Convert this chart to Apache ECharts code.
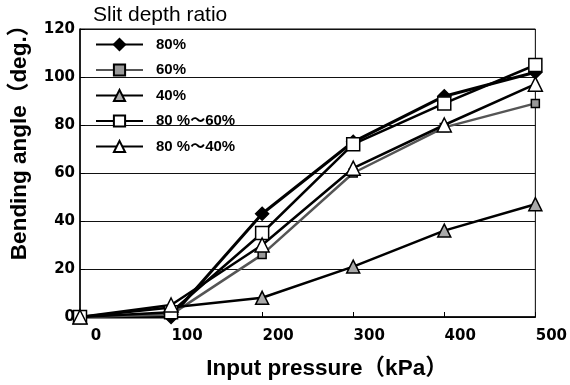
<!DOCTYPE html>
<html>
<head>
<meta charset="utf-8">
<script src="https://cdn.jsdelivr.net/npm/echarts@6/dist/echarts.min.js"></script>
<style>
  html, body { margin: 0; padding: 0; background: #fff; }
  #main { width: 570px; height: 385px; }
</style>
</head>
<body>
<div id="main"></div>
<script>
// input pressure (kPa)
const pressures = [0, 100, 200, 300, 400, 500];
// bending angle (deg.) per slit depth ratio
const d80 = [0, 0, 43, 73, 92, 102];
const d60 = [0, 1, 26, 60, 79, 89];
const d40 = [0, 4, 8, 21, 36, 47];
const d80to60 = [0, 2, 35, 72, 89, 105];
const d80to40 = [0, 5, 30, 62, 80, 97];
const xTicks = [0, 100, 200, 300, 400, 500];
const yTicks = [0, 20, 40, 60, 80, 100, 120];

const FONT = "'Liberation Sans', 'Noto Sans CJK JP', sans-serif";

const pairs = (vals) => pressures.map((p, i) => [p, vals[i]]);

const mkSeries = (name, vals, symbol, size, fill, lineColor, lineWidth) => ({
  name: name,
  type: "line",
  data: pairs(vals),
  symbol: symbol,
  symbolSize: size,
  showAllSymbol: true,
  clip: false,
  lineStyle: { color: lineColor, width: lineWidth },
  itemStyle: { color: fill, borderColor: "#000", borderWidth: 1.5 },
  emphasis: { disabled: true },
});

const chart = echarts.init(document.getElementById("main"));
chart.setOption({
  backgroundColor: "#fff",
  animation: false,
  grid: {
    left: 80, right: 32, top: 29, bottom: 68,
    show: true, borderColor: "#000", borderWidth: 1,
  },
  legend: {
    orient: "vertical",
    left: 90,
    top: 32,
    itemWidth: 47,
    itemHeight: 14,
    itemGap: 10.5,
    textStyle: { fontFamily: FONT, fontSize: 15, fontWeight: "bold", color: "#000", padding: [0, 0, 0, 8] },
    data: ["80%", "60%", "40%", "80 %～60%", "80 %～40%"],
  },
  xAxis: {
    type: "value",
    min: xTicks[0],
    max: xTicks[xTicks.length - 1],
    interval: 100,
    axisLine: { lineStyle: { color: "#000", width: 1.5 } },
    axisTick: { inside: true, length: 5, lineStyle: { color: "#000" } },
    splitLine: { show: false },
    axisLabel: {
      margin: 12,
      formatter: (v) => "{a|" + v + "}",
      rich: { a: { fontFamily: "DejaVu Sans", fontSize: 15, fontWeight: "bold", color: "#000", padding: [0, 0, 0, 32] } },
    },
  },
  yAxis: {
    type: "value",
    min: yTicks[0],
    max: yTicks[yTicks.length - 1],
    interval: 20,
    axisLine: { show: true, lineStyle: { color: "#000", width: 1.5 } },
    axisTick: { show: true, inside: true, length: 5, lineStyle: { color: "#000" } },
    splitLine: { show: true, lineStyle: { color: "#111", width: 1 } },
    axisLabel: {
      margin: 5,
      color: "#000",
      fontFamily: "DejaVu Sans",
      fontSize: 15,
      fontWeight: "bold",
      padding: [6, 0, 0, 0],
    },
  },
  graphic: [
    {
      type: "text", left: 93, top: 5,
      style: { text: "Slit depth ratio", font: "21px " + FONT, fill: "#000" },
    },
    {
      type: "text", x: 20, y: 137, rotation: Math.PI / 2,
      style: { text: "Bending angle（deg.）", font: "bold 22.5px " + FONT, fill: "#000", align: "center", verticalAlign: "middle" },
    },
    {
      type: "text", x: 327, y: 369,
      style: { text: "Input pressure（kPa）", font: "bold 22.5px " + FONT, fill: "#000", align: "center", verticalAlign: "middle" },
    },
  ],
  series: [
    mkSeries("80%", d80, "diamond", 13, "#000", "#000", 3),
    mkSeries("60%", d60, "rect", 8, "#999", "#555", 2.5),
    mkSeries("40%", d40, "triangle", 13, "#aaa", "#000", 2.5),
    mkSeries("80 %～60%", d80to60, "rect", 13, "#fff", "#000", 2.5),
    mkSeries("80 %～40%", d80to40, "triangle", 14, "#fff", "#000", 2.5),
  ],
});
</script>
</body>
</html>
